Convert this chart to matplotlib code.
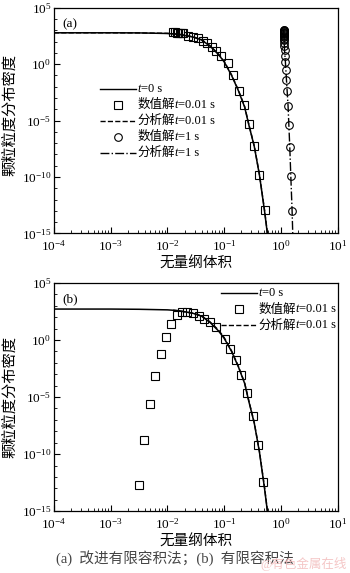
import numpy as np
import matplotlib
matplotlib.use('Agg')
import matplotlib.pyplot as plt
from matplotlib.ticker import LogLocator, NullFormatter, FixedLocator
from matplotlib.lines import Line2D
from matplotlib.offsetbox import (AnchoredOffsetbox, DrawingArea, HPacker,
                                  TextArea, VPacker)

FAM = ['Liberation Serif', 'Noto Sans CJK SC']
plt.rcParams['font.family'] = FAM
plt.rcParams['mathtext.fontset'] = 'stix'
plt.rcParams['font.size'] = 8.5

# ---- data (log10 values) ----
# (a) improved finite volume
a_t0_logv = [-4.0, -3.0, -2.5, -2.0, -1.8, -1.55, -1.4, -1.25, -1.1, -1.0,
             -0.87, -0.75, -0.64, -0.57, -0.47, -0.38, -0.29, -0.25, -0.23]
a_t0_logn = [2.78, 2.78, 2.77, 2.72, 2.64, 2.40, 2.15, 1.60, 0.85, 0.20,
             -1.0, -2.35, -3.8, -5.3, -7.3, -9.8, -13.0, -14.6, -15.5]

a_ana01_logv = [-4.0, -3.0, -2.5, -2.0, -1.8, -1.55, -1.4, -1.25, -1.1, -1.0,
                -0.87, -0.75, -0.64, -0.57, -0.47, -0.38, -0.29, -0.25, -0.23]
a_ana01_logn = [2.78, 2.78, 2.77, 2.73, 2.66, 2.43, 2.18, 1.64, 0.90, 0.25,
                -0.95, -2.3, -3.75, -5.25, -7.25, -9.75, -12.9, -14.5, -15.4]

a_num01_logv = [-1.90, -1.87, -1.84, -1.81, -1.78, -1.75, -1.72, -1.64, -1.55,
                -1.46, -1.38, -1.30, -1.22, -1.14, -1.05, -0.93, -0.84,
                -0.74, -0.65, -0.57, -0.48, -0.39, -0.29]
a_num01_logn = [2.84, 2.82, 2.80, 2.79, 2.78, 2.76, 2.75, 2.54, 2.45,
                2.30, 2.09, 1.92, 1.56, 1.20, 0.73, 0.08, -1.0,
                -2.35, -3.65, -5.31, -7.27, -9.84, -12.96]

a_num1_logv = [0.048, 0.048, 0.048, 0.049, 0.049, 0.049, 0.050, 0.050, 0.051,
               0.052, 0.053, 0.054, 0.056, 0.058, 0.060, 0.063,
               0.068, 0.078, 0.085, 0.097, 0.107, 0.125, 0.143, 0.155,
               0.173, 0.196]
a_num1_logn = [3.05, 3.0, 2.95, 2.9, 2.85, 2.8, 2.75, 2.7, 2.6,
               2.5, 2.4, 2.25, 2.1, 1.9, 1.6, 1.22,
               0.75, 0.18, -0.56, -1.42, -2.4, -3.72, -5.4, -7.35,
               -9.9, -13.0]

a_ana1_logv = [0.048, 0.063, 0.078, 0.097, 0.125, 0.155, 0.173, 0.196, 0.210]
a_ana1_logn = [3.05, 1.22, 0.18, -1.42, -3.72, -7.35, -9.9, -13.0, -15.5]

# (b) finite volume
b_t0_logv = [-4.0, -3.0, -2.5, -2.0, -1.8, -1.55, -1.4, -1.25, -1.1, -1.0,
             -0.87, -0.75, -0.64, -0.57, -0.47, -0.38, -0.29, -0.25, -0.23]
b_t0_logn = [2.72, 2.72, 2.70, 2.65, 2.58, 2.35, 2.10, 1.55, 0.80, 0.15,
             -1.0, -2.35, -3.8, -5.3, -7.3, -9.8, -13.0, -14.6, -15.5]

b_ana01_logv = [-1.9, -1.8, -1.55, -1.4, -1.25, -1.1, -1.0, -0.87, -0.75,
                -0.64, -0.57, -0.47, -0.38, -0.29, -0.25, -0.23]
b_ana01_logn = [2.62, 2.56, 2.36, 2.12, 1.60, 0.88, 0.22, -0.95, -2.3,
                -3.75, -5.25, -7.25, -9.75, -12.9, -14.5, -15.4]

b_num01_logv = [-2.50, -2.41, -2.31, -2.22, -2.12, -2.03, -1.93, -1.83, -1.74,
                -1.65, -1.55, -1.45, -1.35, -1.25, -1.15, -0.98, -0.89,
                -0.79, -0.70, -0.60, -0.49, -0.41, -0.31]
b_num01_logn = [-12.75, -8.77, -5.64, -3.16, -1.23, 0.29, 1.40, 2.19, 2.48,
                2.43, 2.34, 2.13, 1.87, 1.55, 1.17, 0.06, -0.76,
                -1.75, -3.07, -4.68, -6.67, -9.24, -12.43]

x_major = [1e-4, 1e-3, 1e-2, 1e-1, 1e0, 1e1]
y_major = [1e-15, 1e-10, 1e-5, 1e0, 1e5]

legend_a = [('-', None, '', '=0 s'),
            ('none', 's', '数值解', '=0.01 s'),
            ('--', None, '分析解', '=0.01 s'),
            ('none', 'o', '数值解', '=1 s'),
            ('-.', None, '分析解', '=1 s')]
legend_b = legend_a[:3]


def p(a):
    return 10.0 ** np.asarray(a)


mk = dict(markerfacecolor='none', markeredgecolor='black', markeredgewidth=0.8,
          linestyle='none', markersize=5.5)


def make_legend(ax, entries, loc, anchor):
    rows = []
    for ls, marker, cn, tail in entries:
        da = DrawingArea(26, 10, 0, 0)
        if marker is None:
            da.add_artist(Line2D([0, 26], [5, 5], color='black', ls=ls, lw=1.0))
        else:
            da.add_artist(Line2D([13], [5], marker=marker, **mk))
        kids = [da, TextArea(' ', textprops=dict(fontsize=4))]
        tp = dict(fontsize=9, family=FAM)
        if cn:
            kids.append(TextArea(cn, textprops=tp))
        kids.append(TextArea('t', textprops=dict(tp, style='italic')))
        kids.append(TextArea(tail, textprops=tp))
        rows.append(HPacker(children=kids, align='center', pad=0, sep=0))
    box = VPacker(children=rows, align='left', pad=0, sep=1.5)
    ab = AnchoredOffsetbox(loc=loc, child=box, bbox_to_anchor=anchor,
                           bbox_transform=ax.transAxes, frameon=False,
                           pad=0, borderpad=0)
    ax.add_artist(ab)


fig = plt.figure(figsize=(3.5, 5.73), dpi=100)
ax_a = fig.add_axes([0.154, 0.5925, 0.811, 0.394])
ax_b = fig.add_axes([0.154, 0.108, 0.811, 0.398])

# panel (a)
ax_a.plot(p(a_t0_logv), p(a_t0_logn), 'k-', lw=1.1)
ax_a.plot(p(a_num01_logv), p(a_num01_logn), marker='s', **mk)
ax_a.plot(p(a_ana01_logv), p(a_ana01_logn), 'k--', lw=1.0)
ax_a.plot(p(a_num1_logv), p(a_num1_logn), marker='o', **mk)
ax_a.plot(p(a_ana1_logv), p(a_ana1_logn), 'k-.', lw=1.0)
make_legend(ax_a, legend_a, 'upper left', (0.162, 0.67))
ax_a.text(0.03, 0.955, '(a)', transform=ax_a.transAxes, ha='left', va='top',
          fontsize=9.5)

# panel (b)
ax_b.plot(p(b_t0_logv), p(b_t0_logn), 'k-', lw=1.1)
ax_b.plot(p(b_num01_logv), p(b_num01_logn), marker='s', **mk)
ax_b.plot(p(b_ana01_logv), p(b_ana01_logn), 'k--', lw=1.0)
make_legend(ax_b, legend_b, 'upper right', (0.995, 0.985))
ax_b.text(0.03, 0.955, '(b)', transform=ax_b.transAxes, ha='left', va='top',
          fontsize=9.5)

for ax in (ax_a, ax_b):
    ax.set_xscale('log')
    ax.set_yscale('log')
    ax.set_xlim(1e-4, 1e1)
    ax.set_ylim(1e-15, 1e5)
    ax.xaxis.set_major_locator(FixedLocator(x_major))
    ax.xaxis.set_minor_locator(LogLocator(base=10, subs=np.arange(2, 10), numticks=20))
    ax.xaxis.set_minor_formatter(NullFormatter())
    ax.yaxis.set_major_locator(FixedLocator(y_major))
    ax.yaxis.set_minor_locator(LogLocator(base=10, subs=(1.0,), numticks=30))
    ax.yaxis.set_minor_formatter(NullFormatter())
    ax.tick_params(which='both', direction='in', top=False, right=False,
                   labelsize=9.5)
    ax.tick_params(axis='x', pad=4)
    ax.tick_params(axis='y', pad=2)
    ax.tick_params(which='major', length=4, width=0.8)
    ax.tick_params(which='minor', length=2, width=0.6)
    for s in ax.spines.values():
        s.set_linewidth(0.9)
    ax.set_xlabel('无量纲体积', fontsize=10.5, labelpad=2)

fig.text(0.03, 0.80, '颗粒粒度分布密度', rotation=90, ha='center', va='center',
         fontsize=11)
fig.text(0.03, 0.307, '颗粒粒度分布密度', rotation=90, ha='center', va='center',
         fontsize=11)
fig.text(0.5, 0.026, '(a)  改进有限容积法；(b)  有限容积法', ha='center',
         va='center', fontsize=10.5, color='#444444')
fig.text(0.99, 0.016, '@有色金属在线', ha='right', va='center', fontsize=9,
         color='#f2b8b8', alpha=0.8)

fig.savefig('out.png', dpi=100, facecolor='white')
